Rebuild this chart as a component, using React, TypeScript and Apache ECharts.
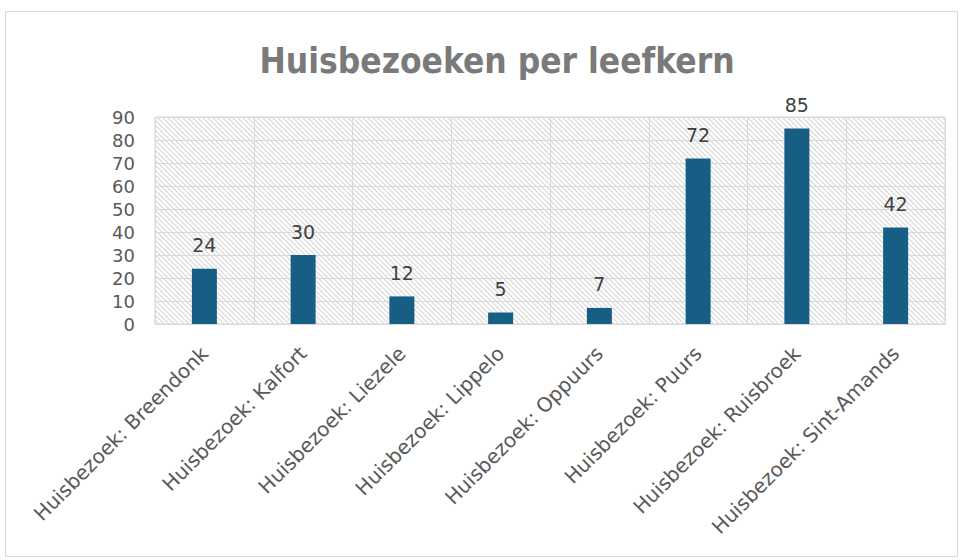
import React, { useEffect, useRef } from "react";
import * as echarts from "echarts";

const categories = [
  "Huisbezoek: Breendonk",
  "Huisbezoek: Kalfort",
  "Huisbezoek: Liezele",
  "Huisbezoek: Lippelo",
  "Huisbezoek: Oppuurs",
  "Huisbezoek: Puurs",
  "Huisbezoek: Ruisbroek",
  "Huisbezoek: Sint-Amands",
];
const values = [24, 30, 12, 5, 7, 72, 85, 42];
const titleText = "Huisbezoeken per leefkern";

function makeHatch(): HTMLCanvasElement {
  const s = 5;
  const c = document.createElement("canvas");
  c.width = s;
  c.height = s;
  const ctx = c.getContext("2d")!;
  ctx.fillStyle = "#ffffff";
  ctx.fillRect(0, 0, s, s);
  ctx.strokeStyle = "#d6d6d6";
  ctx.lineWidth = 1.2;
  ctx.beginPath();
  ctx.moveTo(-1, -1);
  ctx.lineTo(s + 1, s + 1);
  ctx.moveTo(-1, s - 1);
  ctx.lineTo(1, s + 1);
  ctx.moveTo(s - 1, -1);
  ctx.lineTo(s + 1, 1);
  ctx.stroke();
  return c;
}

export default function App() {
  const ref = useRef<HTMLDivElement>(null);
  useEffect(() => {
    if (!ref.current) return;
    const chart = echarts.init(ref.current, null, { renderer: "svg" });
    const hatch = makeHatch();
    chart.setOption({
      animation: false,
      backgroundColor: "#ffffff",
      title: {
        text: titleText,
        left: 492,
        top: 38,
        textAlign: "center",
        textStyle: {
          fontFamily: "'DejaVu Sans Condensed', 'Liberation Sans', sans-serif",
          fontSize: 35,
          fontWeight: "bold",
          color: "#7a7a7a",
        },
      },
      graphic: [
        {
          type: "rect",
          shape: { x: 5.5, y: 11.5, width: 952, height: 545 },
          style: { fill: "none", stroke: "#d9d9d9", lineWidth: 1 },
          silent: true,
          z: -1,
        },
      ],
      grid: {
        left: 155,
        right: 15,
        top: 117,
        bottom: 236,
        show: true,
        backgroundColor: { image: hatch, repeat: "repeat", imageWidth: 5, imageHeight: 5 } as any,
        borderColor: "#d9d9d9",
        borderWidth: 1,
      },
      xAxis: {
        type: "category",
        data: categories,
        axisLine: { show: true, lineStyle: { color: "#d9d9d9" } },
        axisTick: { show: false },
        splitLine: { show: true, lineStyle: { color: "#d9d9d9", width: 1 } },
        axisLabel: {
          rotate: 45,
          interval: 0,
          margin: 26,
          fontFamily: "'DejaVu Sans', sans-serif",
          fontSize: 20,
          color: "#595959",
        },
      },
      yAxis: {
        type: "value",
        min: 0,
        max: 90,
        interval: 10,
        axisLine: { show: false },
        axisTick: { show: false },
        splitLine: { show: true, lineStyle: { color: "#d9d9d9", width: 1 } },
        axisLabel: {
          margin: 20,
          fontFamily: "'DejaVu Sans', sans-serif",
          fontSize: 18,
          color: "#595959",
        },
      },
      series: [
        {
          type: "bar",
          data: values,
          barWidth: 25,
          itemStyle: { color: "#175e84" },
          label: {
            show: true,
            position: "top",
            distance: 14,
            fontFamily: "'DejaVu Sans', sans-serif",
            fontSize: 19,
            color: "#404040",
          },
        },
      ],
    });
    return () => chart.dispose();
  }, []);
  return (
    <div
      ref={ref}
      style={{ position: "fixed", left: 0, top: 0, width: 960, height: 560 }}
    />
  );
}
